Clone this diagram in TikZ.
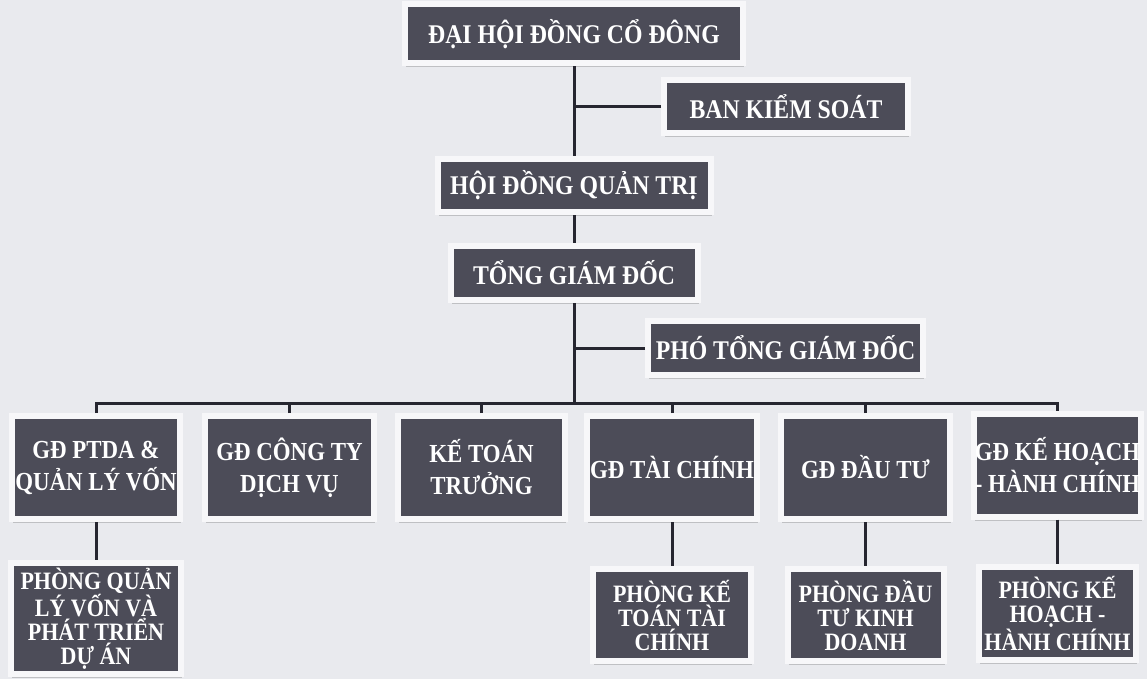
\documentclass[tikz,border=0pt]{standalone}
\usepackage{fontspec}
\setmainfont{Liberation Serif}
\newfontfamily\narrowserif{Liberation Serif}[FakeStretch=0.88]
\usetikzlibrary{shadows}
\definecolor{bg}{RGB}{233,234,238}
\definecolor{boxdark}{RGB}{76,76,88}
\definecolor{boxframe}{RGB}{247,247,249}
\definecolor{linecol}{RGB}{38,38,48}
\tikzset{
  orgbox/.style={fill=boxdark, draw=boxframe, line width=6pt, text=white,
    align=center, inner sep=0pt,
    drop shadow={shadow xshift=1pt, shadow yshift=-4pt, opacity=0.35, fill=black!55}},
  topfont/.style={font=\narrowserif\fontsize{27}{30}\selectfont\bfseries},
  midfont/.style={font=\narrowserif\fontsize{26}{32}\selectfont\bfseries},
  lowfont/.style={font=\narrowserif\fontsize{25}{24}\selectfont\bfseries},
  conn/.style={draw=linecol, line width=3pt},
}
\begin{document}
\begin{tikzpicture}[x=1pt,y=-1pt]
\fill[bg] (0,0) rectangle (1147,679);
\useasboundingbox (0,0) rectangle (1147,679);

% top chain
\node[orgbox, topfont, minimum width=338pt, minimum height=59pt] (dhcd) at (574,34) {ĐẠI HỘI ĐỒNG CỔ ĐÔNG};
\node[orgbox, topfont, minimum width=244pt, minimum height=53pt] (bks) at (786,106.5) {BAN KIỂM SOÁT};
\node[orgbox, topfont, minimum width=273pt, minimum height=53pt] (hdqt) at (574,185.5) {HỘI ĐỒNG QUẢN TRỊ};
\node[orgbox, topfont, minimum width=247pt, minimum height=54pt] (tgd) at (574,273) {TỔNG GIÁM ĐỐC};
\node[orgbox, topfont, minimum width=275pt, minimum height=54pt] (ptgd) at (785.5,348) {PHÓ TỔNG GIÁM ĐỐC};

% first row
\node[orgbox, midfont, minimum width=168pt, minimum height=103pt] (b1) at (96,467.5) {GĐ PTDA \&\\QUẢN LÝ VỐN};
\node[orgbox, midfont, minimum width=169pt, minimum height=103pt] (b2) at (289.5,467.5) {GĐ CÔNG TY\\DỊCH VỤ};
\node[orgbox, midfont, minimum width=167pt, minimum height=103pt] (b3) at (481.5,467.5) {KẾ TOÁN\\TRƯỞNG};
\node[orgbox, midfont, minimum width=170pt, minimum height=103pt] (b4) at (672,467.5) {GĐ TÀI CHÍNH};
\node[orgbox, midfont, minimum width=169pt, minimum height=103pt] (b5) at (865.5,467.5) {GĐ ĐẦU TƯ};
\node[orgbox, midfont, minimum width=167pt, minimum height=103pt] (b6) at (1057.5,465) {GĐ KẾ HOẠCH\\- HÀNH CHÍNH};

% second row
\node[orgbox, lowfont, minimum width=170pt, minimum height=111pt] (p1) at (96,618.5) {PHÒNG QUẢN\\LÝ VỐN VÀ\\PHÁT TRIỂN\\DỰ ÁN};
\node[orgbox, lowfont, minimum width=158pt, minimum height=92pt] (p4) at (672,615) {PHÒNG KẾ\\TOÁN TÀI\\CHÍNH};
\node[orgbox, lowfont, minimum width=156pt, minimum height=92pt] (p5) at (865.5,615) {PHÒNG ĐẦU\\TƯ KINH\\DOANH};
\node[orgbox, lowfont, minimum width=157pt, minimum height=93pt] (p6) at (1057.5,613.5) {PHÒNG KẾ\\HOẠCH -\\HÀNH CHÍNH};

% connectors
\coordinate (bus) at (574,403);
\draw[conn] (dhcd.south) -- (hdqt.north);
\draw[conn] (bks.west) -- (bks.west -| dhcd.south);
\draw[conn] (hdqt.south) -- (tgd.north);
\draw[conn] (tgd.south) -- (bus);
\draw[conn] (ptgd.west) -- (ptgd.west -| tgd.south);
\draw[conn] (b1.north) |- (bus) -| (b6.north);
\draw[conn] (b2.north) -- (b2.north |- bus);
\draw[conn] (b3.north) -- (b3.north |- bus);
\draw[conn] (b4.north) -- (b4.north |- bus);
\draw[conn] (b5.north) -- (b5.north |- bus);
\draw[conn] (b1.south) -- (p1.north);
\draw[conn] (b4.south) -- (p4.north);
\draw[conn] (b5.south) -- (p5.north);
\draw[conn] (b6.south) -- (p6.north);
\end{tikzpicture}
\end{document}
